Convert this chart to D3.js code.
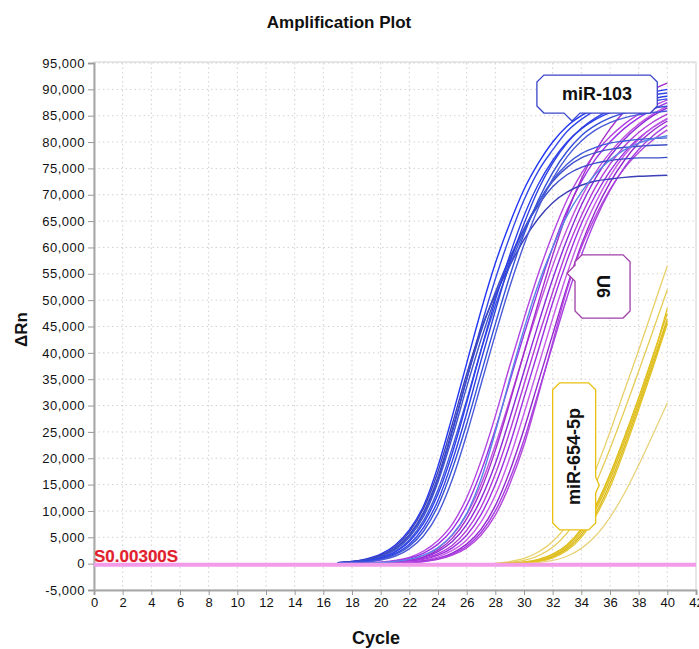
<!DOCTYPE html>
<html>
<head>
<meta charset="utf-8">
<script src="https://cdn.jsdelivr.net/npm/d3@7.9.0/dist/d3.min.js"></script>
<style>
  body { margin: 0; background: #fff; }
  text { font-family: "Liberation Sans", Arial, sans-serif; }
</style>
</head>
<body>
<svg id="chart" width="699" height="649"></svg>
<script>
// cycles covered by the rising part of each curve (baseline before is ~0)
const cyclesEarly = [17,18,19,20,21,22,23,24,25,26,27,28,29,30,31,32,33,34,35,36,37,38,39,40];
const cyclesLate = [28,29,30,31,32,33,34,35,36,37,38,39,40];

const xTicks = [0,2,4,6,8,10,12,14,16,18,20,22,24,26,28,30,32,34,36,38,40,42];
const yTicks = [-5000,0,5000,10000,15000,20000,25000,30000,35000,40000,45000,50000,
  55000,60000,65000,70000,75000,80000,85000,90000,95000];

const threshold = 0;
const thresholdLabel = "S0.00300S";

// dRn in thousands, miR-103 wells
const mir103 = [
  [0.2,0.4,0.9,1.8,3.5,6.4,11,18.5,28,38,48,57,64.5,71,76,80,83,85,86.5,87.6,88.4,89,89.5,90],
  [0.1,0.3,0.7,1.4,2.8,5.3,9.5,16,25,35,45,54,62,69,74.5,78.5,82,84.3,86,87.2,88,88.6,89,89.3],
  [0.2,0.4,0.8,1.6,3.2,6,10.5,17.5,26.5,36,44.5,51,56.5,61.5,65.5,68.5,70.5,71.8,72.6,73,73.3,73.5,73.6,73.7],
  [0.1,0.3,0.7,1.4,2.9,5.5,9.8,16.5,25.5,35,44,51.5,58,63.5,68,71.5,73.8,75.2,76,76.5,76.8,77,77,77.1],
  [0.1,0.3,0.6,1.3,2.6,5,9,15.5,24,33.5,42.5,50.5,57.5,63.5,68.5,72.5,75.2,77,78,78.6,79,79.2,79.4,79.5],
  [0.1,0.2,0.5,1.1,2.3,4.5,8.2,14,22,31,40.5,49,56.5,63,68.5,72.8,75.8,77.8,79,79.8,80.2,80.5,80.7,80.8],
  [0.1,0.2,0.5,1.1,2.2,4.2,7.7,13.2,21,30.5,40.5,50,58.5,66,72,76.5,80,82.5,84.3,85.6,86.6,87.3,87.8,88.2],
  [0.1,0.2,0.4,0.9,1.9,3.7,6.9,12,19.5,28.5,38.5,48,57,64.5,71,76,79.8,82.6,84.6,86,87,87.8,88.3,88.7],
  [0.1,0.2,0.4,0.8,1.7,3.3,6.2,11,18,26.5,36,45.5,54.5,62.5,69,74.2,78.2,81.2,83.2,84.6,85.5,86.1,86.5,86.8],
  [0,0,0.1,0.2,0.4,0.8,1.6,3,5.5,9.5,16,25,35,44.5,53,60,66,70.5,74,76.6,78.5,79.8,80.6,81.2],
  [0.1,0.2,0.3,0.7,1.4,2.8,5.3,9.5,16,24.5,34,43.5,52.5,60.5,67.5,73,77.2,80.2,82.3,83.7,84.6,85.2,85.6,85.9]
];
const mir103Colors = ["#2236f4","#3448e6","#3b3fb8","#3a4bc8","#4050c8","#3f58d8",
  "#2b40ec","#3040e0","#3550d8","#5a84e4","#4a5ad8"];

// dRn in thousands, U6 wells
const u6 = [
  [0,0,0.1,0.3,0.6,1.2,2.4,4.4,7.5,12.5,19.5,28,37.5,46.5,55,62.5,69,74,78,81,83.4,85.3,86.8,88],
  [0,0,0.1,0.2,0.5,1,2,3.7,6.5,11,17.5,25.5,34.5,43.5,52,60,67,72.5,76.8,80,82.6,84.6,86.2,87.5],
  [0,0,0.1,0.2,0.4,0.8,1.6,3,5.4,9.3,15,22.5,31,40,48.5,56.5,63.5,69.5,74.3,78,81,83.4,85.3,86.8],
  [0,0,0,0.1,0.3,0.6,1.3,2.6,4.8,8.5,14,21.5,30.5,40,49.5,58.5,66.5,73,78.3,82.5,85.8,88.2,90,91.2],
  [0,0,0,0.1,0.3,0.6,1.2,2.3,4.2,7.4,12.3,19,27.5,36.5,45.5,54,61.5,68,73.2,77.3,80.5,83,85,86.5],
  [0,0,0,0.1,0.2,0.5,1,1.9,3.5,6.3,10.7,17,25,34,43,51.5,59.5,66,71.5,75.8,79.2,81.8,83.8,85.3],
  [0,0,0,0.1,0.2,0.4,0.8,1.6,3,5.4,9.3,15,22.5,31.5,40.5,49.5,57.5,64.5,70,74.5,78,80.7,82.8,84.4],
  [0,0,0,0,0.1,0.3,0.6,1.3,2.5,4.5,7.9,13,20,28.5,37.5,46.5,55,62.5,68.5,73.5,77.5,80.5,82.8,84.5],
  [0,0,0,0,0.1,0.2,0.5,1,2,3.7,6.5,11,17.5,25.5,34.5,43.5,52.5,60.5,67,72.3,76.5,79.8,82.2,84],
  [0,0,0,0,0.1,0.2,0.4,0.8,1.6,3,5.4,9.2,15,22.5,32,42,52,60,66,71,75,78,80.4,82.3],
  [0,0,0,0,0.1,0.2,0.4,0.9,1.8,3.3,5.9,10,16,23.5,32.5,41.5,50.5,58.5,65.3,70.8,75.2,78.6,81.2,83.2]
];
const u6Colors = ["#b444e0","#9a30e8","#c050e0","#a22ccc","#8c28d8","#b03ad8",
  "#9e2fe0","#c55ae6","#9426d0","#b448dc","#a63ee0"];

// dRn in thousands, miR-654-5p wells
const mir654 = [
  [0.1,0.4,1,2.2,4.2,7.3,11.8,17.8,25,32.8,40.5,48.5,56.5],
  [0,0.2,0.6,1.5,3.1,5.8,9.8,15.2,21.8,29,36.5,44.2,52],
  [0,0.1,0.3,0.8,1.8,3.6,6.6,11,17,24,31.5,39.5,47.5],
  [0,0.1,0.2,0.6,1.5,3.1,5.9,10.2,16,23,30.5,38.5,46.5],
  [0,0,0.2,0.5,1.3,2.8,5.4,9.5,15.2,22.2,29.8,37.8,46],
  [0,0,0.1,0.4,1.1,2.5,5,9,14.5,21.5,29.2,37.2,45.5],
  [0,0.1,0.3,0.7,1.7,3.4,6.3,10.7,16.6,23.6,31.2,39.2,48.5],
  [0,0,0,0.2,0.6,1.4,2.9,5.3,8.8,13.3,18.7,24.5,30.5]
];
const mir654Colors = ["#e8d068","#e6cc55","#dcbc1c","#e0c020","#d8b818","#e4c428","#e2c224","#e8d27a"];

const width = 699, height = 649;
const margin = { top: 63, right: 3, bottom: 59, left: 94 };

let svg = d3.select('#chart');

let x = d3.scaleLinear().domain([0, 42]).range([margin.left, width - margin.right]);
let y = d3.scaleLinear().domain([-5000, 95000]).range([height - margin.bottom, margin.top]);

// plot frame
svg.append('rect')
  .attr('x', x(0)).attr('y', y(95000) - 1)
  .attr('width', x(42) - x(0)).attr('height', y(-5000) - y(95000) + 1)
  .attr('fill', '#fff').attr('stroke', '#d0d0d0');

// dotted grid
svg.append('g').selectAll('line')
  .data(xTicks.filter(d => d > 0 && d < 42))
  .join('line')
  .attr('x1', d => x(d)).attr('x2', d => x(d))
  .attr('y1', y(95000)).attr('y2', y(-5000))
  .attr('stroke', '#d6cfd6').attr('stroke-dasharray', '1.5,3');
svg.append('g').selectAll('line')
  .data(yTicks.filter(d => d > -5000))
  .join('line')
  .attr('x1', x(0)).attr('x2', x(42))
  .attr('y1', d => y(d)).attr('y2', d => y(d))
  .attr('stroke', '#d6cfd6').attr('stroke-dasharray', '1.5,3');

// axes (plain hyphen for negatives, like the source software)
let fmt = d3.format(',');
let xAxis = svg.append('g')
  .attr('transform', `translate(0,${y(-5000)})`)
  .call(d3.axisBottom(x).tickValues(xTicks).tickSize(5).tickPadding(3));
let yAxis = svg.append('g')
  .attr('transform', `translate(${x(0)},0)`)
  .call(d3.axisLeft(y).tickValues(yTicks)
    .tickFormat(d => fmt(d).replace('\u2212', '-'))
    .tickSize(6).tickPadding(3));
[xAxis, yAxis].forEach(g => {
  g.selectAll('text')
    .style('font-size', '13px').style('fill', '#111')
    .style('font-family', '"Liberation Sans", Arial, sans-serif');
  g.selectAll('line').attr('stroke', '#999');
  g.select('.domain').attr('stroke', '#a8a8a8').attr('stroke-width', 2);
});
yAxis.selectAll('text').style('letter-spacing', '0.5px');

// curves
svg.append('clipPath').attr('id', 'plotClip')
  .append('rect')
  .attr('x', x(0)).attr('y', y(95000))
  .attr('width', x(42) - x(0)).attr('height', y(-5000) - y(95000));

let line = d3.line()
  .x(d => x(d[0]))
  .y(d => y(d[1] * 1000))
  .curve(d3.curveMonotoneX);

let curves = svg.append('g').attr('clip-path', 'url(#plotClip)');
function drawGroup(rows, cycles, colors, width) {
  rows.forEach((row, i) => {
    curves.append('path')
      .attr('d', line(row.map((v, j) => [cycles[j], v])))
      .attr('fill', 'none')
      .attr('stroke', colors[i % colors.length])
      .attr('stroke-width', width);
  });
}
drawGroup(mir654, cyclesLate, mir654Colors, 1.3);
drawGroup(u6, cyclesEarly, u6Colors, 1.4);
drawGroup(mir103, cyclesEarly, mir103Colors, 1.4);

// threshold line + label
svg.append('line')
  .attr('x1', x(0)).attr('x2', x(42))
  .attr('y1', y(threshold) + 1).attr('y2', y(threshold) + 1)
  .attr('stroke', '#f29be9').attr('stroke-width', 4);
svg.append('text')
  .attr('x', x(0)).attr('y', y(threshold) - 2)
  .attr('font-size', 17).attr('font-weight', 'bold')
  .attr('fill', '#e0202c')
  .attr('stroke', '#fbd0d8').attr('stroke-width', 0.6).attr('paint-order', 'stroke')
  .text(thresholdLabel);

// callouts: chamfered box with a small pointer
function calloutPath(c0, v0, c1, v1, tipC, tipV, side) {
  let x0 = x(c0), x1 = x(c1), y0 = y(v0), y1 = y(v1);
  let tx = x(tipC), ty = y(tipV);
  let k = 7, b = 8;
  let pts = [[x0 + k, y0], [x1 - k, y0], [x1, y0 + k]];
  if (side === 'right') pts.push([x1, ty - b], [tx, ty], [x1, ty + b]);
  pts.push([x1, y1 - k], [x1 - k, y1]);
  if (side === 'bottom') pts.push([tx + b, y1], [tx, ty], [tx - b, y1]);
  pts.push([x0 + k, y1], [x0, y1 - k]);
  if (side === 'left') pts.push([x0, ty + b], [tx, ty], [x0, ty - b]);
  pts.push([x0, y0 + k]);
  return 'M' + pts.map(p => p.join(',')).join('L') + 'Z';
}

let notes = svg.append('g');
function callout(c0, v0, c1, v1, tipC, tipV, side, color, label, angle) {
  notes.append('path')
    .attr('d', calloutPath(c0, v0, c1, v1, tipC, tipV, side))
    .attr('fill', '#fff').attr('stroke', color).attr('stroke-width', 1.3);
  let cx = (x(c0) + x(c1)) / 2, cy = (y(v0) + y(v1)) / 2;
  notes.append('text')
    .attr('transform', `translate(${cx},${cy}) rotate(${angle})`)
    .attr('text-anchor', 'middle').attr('dominant-baseline', 'central')
    .attr('font-size', 18).attr('font-weight', 'bold').attr('fill', '#111')
    .text(label);
}
callout(30.9, 92700, 39.3, 85500, 33.35, 84000, 'bottom', '#3a46c8', 'miR-103', 0);
callout(33.56, 58600, 37.4, 46600, 33.0, 55100, 'left', '#a040a8', 'U6', 90);
callout(32.0, 34300, 35.0, 6400, 35.25, 14900, 'right', '#e8c010', 'miR-654-5p', -90);

// titles
svg.append('text')
  .attr('x', 339).attr('y', 28)
  .attr('text-anchor', 'middle')
  .attr('font-size', 17).attr('font-weight', 'bold').attr('fill', '#111')
  .text('Amplification Plot');
svg.append('text')
  .attr('x', 376).attr('y', 644)
  .attr('text-anchor', 'middle')
  .attr('font-size', 18).attr('font-weight', 'bold').attr('fill', '#111')
  .text('Cycle');
svg.append('text')
  .attr('transform', `translate(27,${(y(95000) + y(-5000)) / 2 + 3}) rotate(-90)`)
  .attr('text-anchor', 'middle')
  .attr('font-size', 17).attr('font-weight', 'bold').attr('fill', '#111')
  .text('ΔRn');
</script>
</body>
</html>
